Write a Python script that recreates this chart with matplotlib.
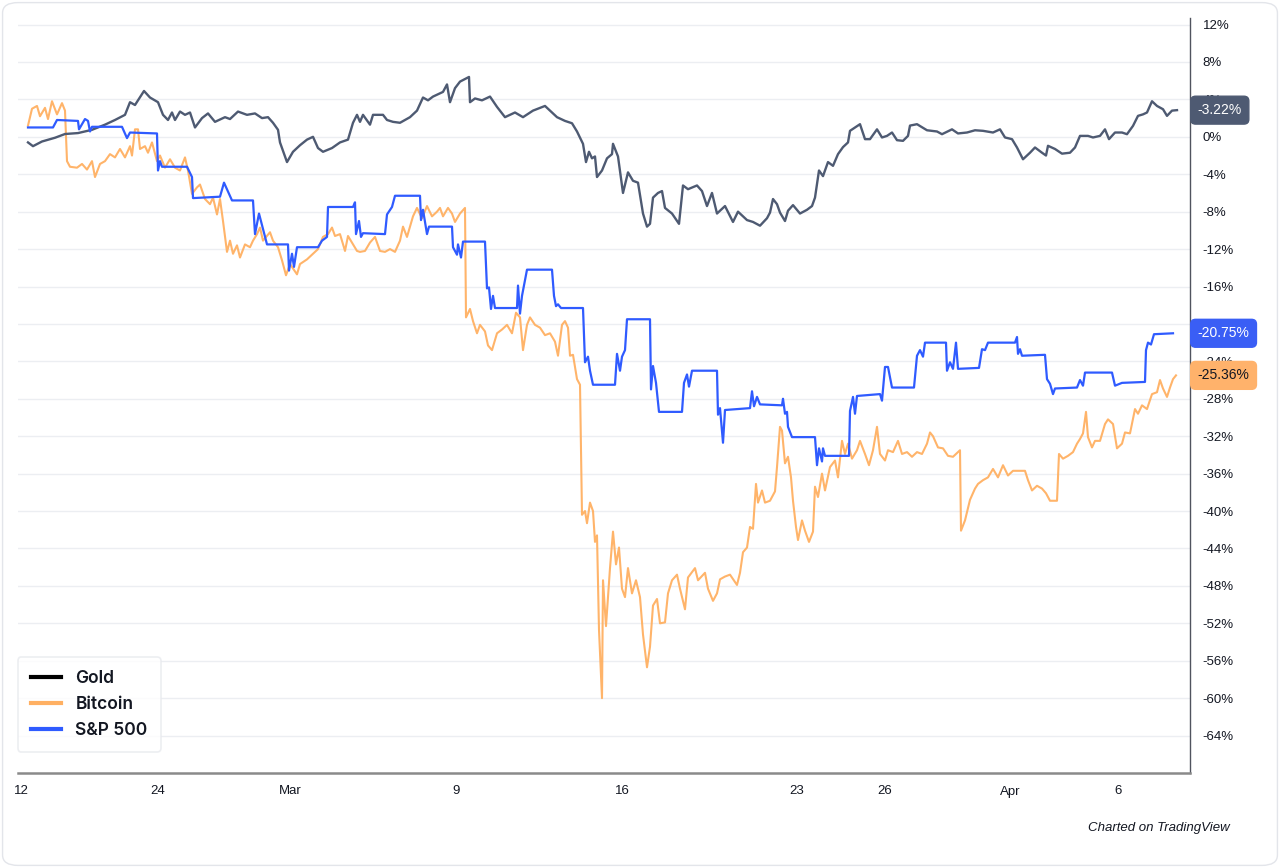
import numpy as np
import matplotlib
matplotlib.use("Agg")
import matplotlib.pyplot as plt
from matplotlib.lines import Line2D
from matplotlib.patches import FancyBboxPatch

# ---------------- data (bar index, % change) ----------------
gold_t = [28,33,42,55,65,78,92,105,115,125,130,135,144,150,158,163,168,172,175,180,185,190,195,202,208,215,225,230,238,247,255,262,268,273,278,280,287,293,300,307,313,318,323,332,340,348,353,357,360,363,370,373,383,387,393,400,410,417,423,428,433,443,447,450,455,460,469,470,475,482,490,497,505,515,523,533,545,550,557,565,572,577,580,583,586,589,592,595,597,602,607,612,613,618,623,628,633,638,643,647,650,653,658,662,665,672,679,683,688,697,702,707,712,717,725,733,738,747,753,760,767,770,773,777,780,785,788,793,800,807,812,815,819,823,828,833,838,843,848,850,860,865,870,877,882,887,892,897,903,908,910,917,927,937,942,952,958,967,975,983,993,1000,1005,1012,1017,1023,1030,1035,1042,1046,1048,1055,1062,1070,1075,1080,1088,1093,1100,1105,1109,1115,1122,1127,1133,1138,1143,1147,1152,1157,1163,1167,1172,1177]
gold_v = [-0.6,-1.0,-0.5,-0.1,0.3,0.4,0.75,1.3,1.8,2.35,3.7,3.4,4.9,4.2,3.7,2.35,1.8,2.6,1.8,2.7,2.35,2.6,1.0,2.0,2.5,1.6,2.1,1.9,2.7,2.35,2.5,2.0,2.1,1.5,0.75,-0.6,-2.7,-1.6,-0.9,-0.3,0.0,-1.2,-1.6,-1.2,-0.6,-0.3,1.5,2.35,1.6,2.35,1.3,2.35,2.35,1.8,1.6,1.5,2.1,2.8,4.2,3.9,4.3,4.8,5.6,3.7,5.2,5.9,6.4,3.7,4.1,3.9,4.3,3.2,2.1,2.6,2.1,2.8,3.3,2.8,2.1,1.7,1.45,0.57,-0.1,-0.75,-2.7,-1.6,-2.3,-2.1,-4.3,-3.6,-2.3,-1.85,-0.75,-2.1,-6.0,-3.8,-4.7,-4.9,-8.2,-9.6,-9.3,-6.5,-6.0,-5.8,-7.6,-8.2,-9.3,-5.2,-5.6,-5.2,-5.8,-7.4,-6.0,-8.2,-7.4,-9.1,-8.0,-8.9,-9.1,-9.5,-8.7,-8.1,-6.65,-7.2,-8.1,-9.0,-7.9,-7.3,-8.2,-7.8,-7.4,-6.5,-3.6,-4.2,-2.7,-3.1,-1.85,-1.1,-0.6,0.64,1.35,-0.25,-0.25,0.8,-0.07,0.1,0.46,-0.36,-0.43,0.1,1.2,1.35,0.7,0.57,0.28,0.8,0.36,0.46,0.7,0.64,0.46,0.8,-0.07,-0.25,-1.14,-2.4,-1.7,-1.14,-1.7,-2.0,-0.96,-1.3,-1.8,-1.7,-1.14,0.1,0.1,-0.07,0.1,0.8,-0.25,0.46,0.46,0.28,1.17,2.24,2.4,2.6,3.8,3.3,2.95,2.24,2.8,2.85]

spx_t = [28,53,57,78,79,85,88,90,92,122,127,130,157,158,160,162,187,192,193,220,224,232,253,255,259,267,288,289,292,294,297,318,322,327,328,353,355,356,359,361,363,385,387,392,395,420,421,423,427,429,452,453,457,458,461,463,485,487,489,491,493,495,517,518,520,522,527,552,554,556,558,561,583,585,588,590,593,615,617,620,622,625,627,650,651,653,656,659,682,684,687,689,692,717,718,720,723,725,750,752,754,757,760,782,783,785,787,788,792,815,817,819,822,823,825,849,850,853,855,857,880,882,885,888,892,914,917,920,923,925,946,947,950,953,956,958,979,982,985,988,1015,1017,1018,1020,1022,1045,1047,1050,1053,1055,1077,1080,1083,1085,1112,1115,1122,1145,1146,1148,1151,1154,1173]
spx_v = [1.0,1.0,1.8,1.7,0.8,1.9,1.7,0.57,1.07,1.07,-0.14,0.46,0.36,-3.6,-2.6,-3.2,-3.2,-4.3,-6.55,-6.4,-4.9,-6.8,-6.8,-10.4,-8.2,-11.5,-11.5,-14.3,-12.5,-13.9,-11.8,-11.8,-11.1,-10.7,-7.5,-7.5,-7.0,-10.4,-9.0,-10.7,-10.3,-10.4,-8.3,-7.5,-6.3,-6.3,-8.9,-7.8,-10.4,-9.6,-9.6,-11.8,-12.6,-11.5,-12.9,-11.2,-11.2,-16.2,-16.1,-18.4,-17.0,-18.3,-18.3,-15.9,-18.9,-17.0,-14.2,-14.2,-17.0,-18.1,-17.9,-18.3,-18.3,-24.1,-23.5,-25.0,-26.5,-26.5,-23.2,-25.0,-23.5,-22.8,-19.5,-19.5,-27.0,-24.5,-26.3,-29.4,-29.4,-26.3,-25.4,-26.7,-25.0,-25.0,-29.7,-29.0,-32.7,-29.2,-29.0,-27.2,-28.8,-27.8,-28.6,-28.7,-28.0,-29.6,-29.4,-31.0,-32.1,-32.1,-35.1,-33.3,-34.7,-33.3,-34.1,-34.1,-29.3,-27.8,-29.6,-27.7,-27.5,-28.2,-24.6,-24.6,-26.8,-26.8,-23.4,-22.8,-23.5,-22.0,-22.0,-25.0,-24.1,-24.8,-22.0,-24.8,-24.7,-22.7,-22.8,-22.0,-22.0,-21.4,-23.2,-22.7,-23.4,-23.3,-25.9,-26.4,-27.5,-26.9,-26.8,-26.0,-26.6,-25.2,-25.2,-26.6,-26.3,-26.2,-22.8,-22.0,-22.2,-21.1,-21.0]

btc_t = [28,32,37,40,45,48,52,57,62,65,67,70,77,82,87,92,95,100,105,110,115,120,125,130,132,135,138,140,145,148,152,157,160,165,170,175,180,185,188,192,197,200,205,210,213,217,220,223,227,230,233,237,240,245,250,253,257,260,263,270,273,278,282,286,290,297,300,307,313,318,323,328,332,335,340,345,348,353,357,360,365,370,375,380,385,390,395,400,403,407,410,413,417,422,427,432,437,440,443,448,452,455,460,465,466,470,473,477,480,485,488,492,497,502,507,512,516,520,523,527,530,535,540,545,550,555,558,562,565,568,570,573,577,580,582,585,587,590,593,595,597,599,602,603,606,610,613,616,619,622,625,628,632,636,640,643,647,650,653,657,660,665,668,672,677,680,685,688,695,698,705,708,713,717,720,725,730,737,740,743,747,750,753,756,758,762,765,770,775,777,780,782,785,788,791,793,796,798,802,805,809,813,815,818,822,825,830,835,838,842,845,848,852,857,860,865,869,873,877,880,885,888,893,898,902,907,912,917,922,927,930,933,938,943,948,953,960,961,965,970,975,978,983,988,993,998,1003,1008,1013,1020,1025,1028,1032,1037,1042,1046,1050,1057,1059,1063,1068,1073,1077,1080,1083,1086,1088,1092,1095,1100,1105,1108,1113,1117,1122,1125,1130,1135,1138,1142,1147,1152,1157,1160,1163,1167,1170,1173,1176]
btc_v = [1.2,3.0,3.3,2.2,3.1,1.9,3.8,2.4,3.6,2.8,-2.6,-3.2,-3.3,-2.9,-3.5,-2.6,-4.3,-2.9,-2.6,-1.85,-2.2,-1.3,-2.2,-1.0,-2.0,0.8,0.8,-1.3,-1.0,-1.7,-0.6,-2.6,-2.0,-3.3,-2.4,-3.3,-3.6,-2.2,-3.6,-6.1,-5.4,-5.1,-6.65,-7.2,-6.5,-8.3,-6.65,-9.0,-12.3,-11.1,-12.5,-11.6,-12.9,-11.5,-11.8,-11.1,-10.4,-9.7,-11.1,-10.2,-11.1,-11.8,-13.2,-14.8,-13.6,-14.7,-13.6,-13.1,-12.5,-12.0,-10.7,-10.4,-9.7,-10.6,-10.4,-12.2,-10.6,-11.5,-12.2,-12.3,-12.2,-11.3,-10.7,-12.2,-12.3,-12.0,-12.3,-11.1,-9.6,-10.7,-9.6,-8.5,-7.6,-8.7,-7.4,-8.5,-8.0,-7.6,-8.5,-7.6,-8.2,-9.1,-8.2,-7.6,-19.3,-18.4,-19.7,-21.0,-20.1,-20.8,-22.3,-22.8,-21.0,-20.6,-20.1,-21.0,-18.8,-19.3,-22.8,-20.1,-19.3,-20.1,-20.4,-21.2,-21.0,-21.9,-23.4,-20.1,-19.7,-20.4,-23.4,-23.3,-25.9,-26.5,-40.4,-40.0,-41.3,-39.1,-40.0,-43.3,-42.6,-52.7,-60.0,-47.4,-52.3,-46.1,-42.2,-45.7,-43.9,-48.3,-49.2,-46.1,-48.8,-47.4,-49.2,-53.2,-56.7,-54.5,-50.1,-49.4,-52.0,-51.9,-48.8,-47.4,-46.8,-48.3,-50.5,-47.1,-46.1,-47.4,-46.6,-48.3,-49.6,-48.8,-47.3,-47.0,-46.8,-47.9,-46.6,-44.4,-43.9,-41.7,-41.9,-37.1,-39.1,-37.8,-39.1,-38.9,-37.9,-35.3,-31.0,-31.4,-34.9,-34.2,-36.4,-38.9,-41.7,-43.1,-41.0,-42.1,-43.3,-42.2,-37.4,-38.5,-36.0,-37.8,-35.3,-34.6,-36.4,-32.5,-33.9,-32.8,-34.4,-33.5,-32.5,-33.9,-35.1,-33.5,-31.0,-33.9,-34.6,-33.5,-33.7,-32.5,-33.9,-33.7,-34.2,-33.7,-33.9,-32.8,-31.6,-32.0,-33.2,-33.3,-34.1,-34.2,-33.5,-42.1,-41.0,-38.8,-37.6,-37.1,-36.7,-36.4,-35.5,-36.4,-35.1,-36.2,-35.7,-35.7,-35.7,-36.7,-37.8,-37.3,-37.6,-38.1,-38.9,-38.9,-33.9,-34.4,-34.1,-33.7,-32.8,-32.3,-31.7,-29.4,-32.1,-33.2,-32.5,-32.5,-30.7,-30.2,-30.7,-33.3,-32.8,-31.6,-31.7,-29.1,-29.6,-28.7,-29.1,-27.5,-27.3,-26.0,-26.9,-27.8,-26.8,-25.9,-25.5]

series_names = ["Gold", "Bitcoin", "S&P 500"]
last_labels = ["-3.22%", "-25.36%", "-20.75%"]

x_tick_pos = [21, 158, 290, 456, 622, 797, 885, 1010, 1118]
x_tick_labels = ["12", "24", "Mar", "9", "16", "23", "26", "Apr", "6"]
y_ticks = list(range(12, -65, -4))
y_hidden = [-20]   # covered by the S&P 500 last-value label in the original

# ---------------- styling ----------------
C_GOLD = "#4e5a72"
C_BTC = "#ffb062"
C_SPX = "#2f5bff"
TXT = "#131722"

fig = plt.figure(figsize=(12.8, 8.68), dpi=100)
fig.patch.set_facecolor("white")
card = FancyBboxPatch((0.002, 0.003), 0.996, 0.994, boxstyle="round,pad=0,rounding_size=0.012",
                      transform=fig.transFigure, facecolor="none", edgecolor="#e3e5ea", lw=1.0, zorder=-5)
fig.patches.append(card)

ax = fig.add_axes([18/1280, 1-773/868, (1190-18)/1280, (773-18)/868])
ax.set_zorder(2)
ax.set_facecolor("none")
ax.set_xlim(18, 1190)
ax.set_ylim(-68.0, 12.7)

for y in y_ticks:
    ax.axhline(y, color="#eceef2", lw=1.0, zorder=0)

ax.plot(gold_t, gold_v, color=C_GOLD, lw=1.7, zorder=3, solid_joinstyle="round")
ax.plot(btc_t, btc_v, color=C_BTC, lw=1.5, zorder=2, alpha=0.95, solid_joinstyle="round")
ax.plot(spx_t, spx_v, color=C_SPX, lw=1.6, zorder=4, solid_joinstyle="round")

for s in ["top", "left"]:
    ax.spines[s].set_visible(False)
ax.spines["bottom"].set_color("#8a8a8a")
ax.spines["bottom"].set_linewidth(1.8)
ax.spines["right"].set_color("#50535e")
ax.spines["right"].set_linewidth(1.0)

ax.yaxis.tick_right()
ax.set_yticks(y_ticks)
ax.set_yticklabels(["" if v in y_hidden else f"{v}%" for v in y_ticks])
ax.tick_params(axis="y", length=0, pad=9, labelsize=9.5, labelcolor=TXT)
ax.set_xticks(x_tick_pos)
ax.set_xticklabels(x_tick_labels)
ax.tick_params(axis="x", length=0, pad=9, labelsize=9.5, labelcolor=TXT)
for lab in ax.get_xticklabels() + ax.get_yticklabels():
    lab.set_fontfamily(["Liberation Sans", "DejaVu Sans"])

# last value labels on the price scale
last_vals = [gold_v[-1], btc_v[-1], spx_v[-1]]
box_cols = [C_GOLD, "#ffb26b", "#3a5ef5"]
txt_cols = ["white", TXT, "white"]
for val, lab, bc, tc in zip(last_vals, last_labels, box_cols, txt_cols):
    ax.annotate(lab, xy=(1.0, val), xycoords=("axes fraction", "data"),
                xytext=(5.5, 0), textcoords="offset points", ha="left", va="center",
                fontsize=10, color=tc, family=["Liberation Sans", "DejaVu Sans"],
                bbox=dict(boxstyle="round,pad=0.5,rounding_size=0.35", fc=bc, ec=bc),
                annotation_clip=False, zorder=10)

# legend
handles = [Line2D([0], [0], color="black", lw=3),
           Line2D([0], [0], color=C_BTC, lw=3),
           Line2D([0], [0], color=C_SPX, lw=3)]
leg = ax.legend(handles, series_names, loc="lower left", bbox_to_anchor=(0.0, 0.028),
                borderaxespad=0.0, frameon=True, fancybox=True, shadow=False,
                handlelength=1.7, handletextpad=0.85, labelspacing=0.5, borderpad=0.75,
                prop={"family": ["Inter", "DejaVu Sans"], "size": 12.5, "weight": "semibold"})
leg.get_frame().set_edgecolor("#e8eaee")
leg.get_frame().set_facecolor("white")
leg.get_frame().set_linewidth(1.2)
leg.set_zorder(20)
for t in leg.get_texts():
    t.set_color(TXT)

fig.text(1230/1280, 1-828/868, "Charted on TradingView", ha="right", va="center",
         fontsize=9.5, style="italic", color=TXT, family=["Liberation Sans", "DejaVu Sans"])

fig.savefig("out.png", dpi=100)
